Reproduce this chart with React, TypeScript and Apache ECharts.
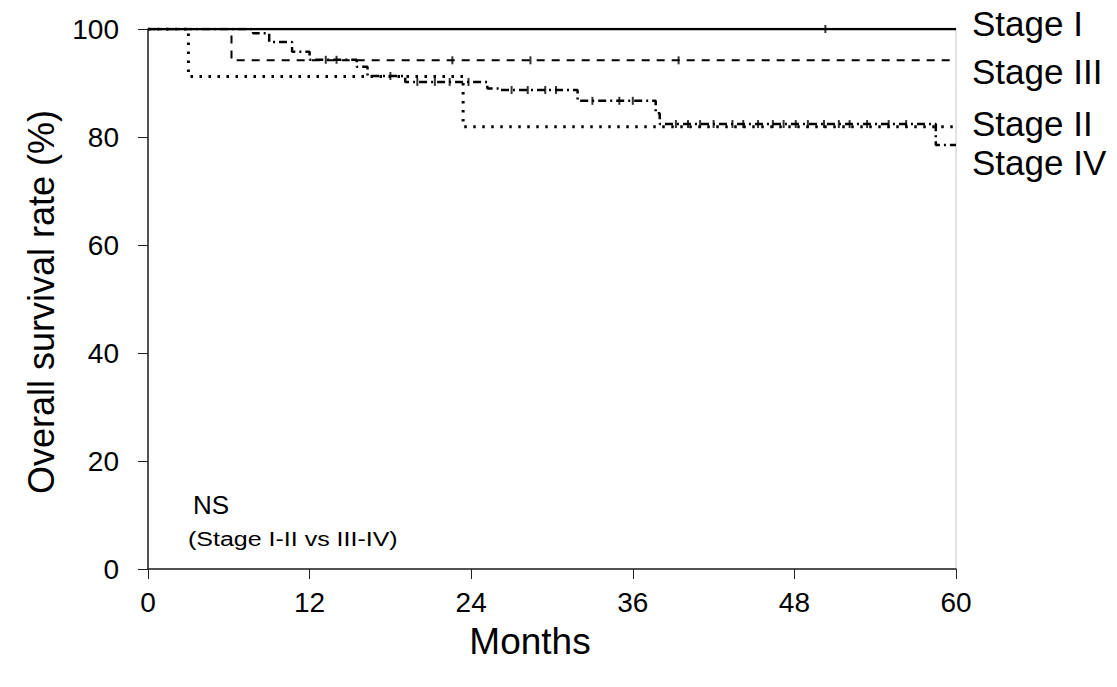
import React, { useEffect, useRef } from "react";
import * as echarts from "echarts";

const xTicks = [0, 12, 24, 36, 48, 60];
const yTicks = [0, 20, 40, 60, 80, 100];

// Kaplan-Meier step points: [month, survival %] (value after event)
const stageI: number[][] = [[0, 100], [60, 100]];
const stageIII: number[][] = [[0, 100], [6.2, 94.2], [60, 94.2]];
const stageIV: number[][] = [[0, 100], [3.0, 91.2], [23.4, 81.9], [60, 81.9]];
const stageII: number[][] = [
  [0, 100], [7.8, 99.2], [9.0, 97.6], [10.7, 95.8], [12.0, 94.3], [15.5, 93.0],
  [16.3, 91.3], [19.1, 90.2], [25.2, 89.0], [26.2, 88.7], [31.9, 86.7],
  [37.7, 84.4], [38.0, 82.4], [58.5, 78.5], [60, 78.5],
];

// censoring marks
const censorI = [50.3];
const censorIII = [22.6, 28.4, 39.4];
const censorII = [
  13.2, 14.0, 18.0, 20.0, 21.3, 22.4, 23.8, 27.0, 28.2, 29.5, 30.3, 33.0, 35.0, 36.0,
  39.2, 40.1, 41.0, 42.0, 43.4, 44.2, 45.3, 46.4, 47.2, 48.1, 49.0, 50.2, 51.3, 52.1,
  53.4, 55.0, 56.3,
];

function survivalAt(curve: number[][], t: number): number {
  let v = curve[0][1];
  for (const p of curve) {
    if (p[0] <= t) v = p[1];
  }
  return v;
}

const labels = [
  { text: "Stage I", y: 23 },
  { text: "Stage III", y: 71 },
  { text: "Stage II", y: 123 },
  { text: "Stage IV", y: 162 },
];

export default function App() {
  const ref = useRef<HTMLDivElement>(null);
  useEffect(() => {
    if (!ref.current) return;
    const chart = echarts.init(ref.current, null, { renderer: "svg" });
    const font = "'Liberation Sans', Arial, sans-serif";
    const censorSeries = (times: number[], curve: number[][]) => ({
      type: "scatter",
      symbol: "rect",
      symbolSize: [2, 8],
      itemStyle: { color: "#000" },
      data: times.map((t) => [t, survivalAt(curve, t)]),
      z: 5,
    });
    chart.setOption({
      animation: false,
      grid: {
        left: 148, top: 29, right: 161, bottom: 118,
        show: true, borderColor: "#c8c8c8", borderWidth: 1,
      },
      xAxis: {
        type: "value", min: 0, max: 60, interval: 12,
        axisLine: { show: true, onZero: false, lineStyle: { color: "#222", width: 1.5 } },
        axisTick: { show: true, length: 10, lineStyle: { color: "#222" } },
        axisLabel: { margin: 19, fontSize: 28, color: "#000", fontFamily: font,
          formatter: (v: number) => (xTicks.includes(v) ? String(v) : "") },
        splitLine: { show: false },
      },
      yAxis: {
        type: "value", min: 0, max: 100, interval: 20,
        axisLine: { show: true, lineStyle: { color: "#222", width: 1.5 } },
        axisTick: { show: true, length: 10, lineStyle: { color: "#222" } },
        axisLabel: { margin: 29, fontSize: 28, color: "#000", fontFamily: font,
          formatter: (v: number) => (yTicks.includes(v) ? String(v) : "") },
        splitLine: { show: false },
      },
      series: [
        { type: "line", step: "end", data: stageIV, showSymbol: false,
          lineStyle: { color: "#000", width: 3, type: [2.5, 6.5] }, z: 2 },
        { type: "line", step: "end", data: stageIII, showSymbol: false,
          lineStyle: { color: "#000", width: 2, type: [8, 7] }, z: 3 },
        { type: "line", step: "end", data: stageII, showSymbol: false,
          lineStyle: { color: "#000", width: 2.5, type: [8, 4, 2, 4] }, z: 4 },
        { type: "line", step: "end", data: stageI, showSymbol: false,
          lineStyle: { color: "#000", width: 2.5 }, z: 6 },
        censorSeries(censorI, stageI),
        censorSeries(censorIII, stageIII),
        censorSeries(censorII, stageII),
      ],
      graphic: [
        ...labels.map((l) => ({
          type: "text", x: 972, y: l.y,
          style: { text: l.text, fontSize: 35, fill: "#000", fontFamily: font,
            verticalAlign: "middle" },
        })),
        { type: "text", x: 41, y: 302, rotation: Math.PI / 2,
          style: { text: "Overall survival rate (%)", fontSize: 36, fill: "#000",
            fontFamily: font, align: "center", verticalAlign: "middle" } },
        { type: "text", x: 530, y: 641,
          style: { text: "Months", fontSize: 37, fill: "#000", fontFamily: font,
            align: "center", verticalAlign: "middle" } },
        { type: "text", x: 193, y: 505,
          style: { text: "NS", fontSize: 26, fill: "#000", fontFamily: font,
            verticalAlign: "middle" } },
        { type: "text", x: 188, y: 539, scaleX: 1.25,
          style: { text: "(Stage I-II vs III-IV)", fontSize: 20, fill: "#000",
            fontFamily: font, verticalAlign: "middle" } },
      ],
    });
    return () => chart.dispose();
  }, []);
  return (
    <div
      ref={ref}
      style={{ position: "fixed", left: 0, top: 0, width: 1117, height: 687, background: "#fff" }}
    />
  );
}
